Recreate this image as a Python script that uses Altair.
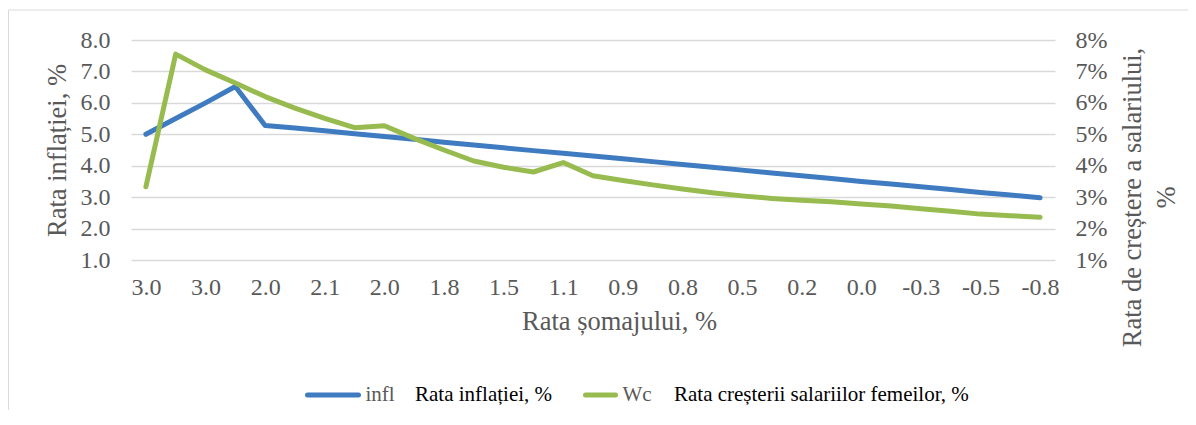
import altair as alt
import pandas as pd

# ---- data ----
x_labels = ["3.0", "3.0", "2.0", "2.1", "2.0", "1.8", "1.5", "1.1",
            "0.9", "0.8", "0.5", "0.2", "0.0", "-0.3", "-0.5", "-0.8"]
inflation = [5.0, 5.5, 6.0, 6.52, 5.28, 5.20, 5.11, 5.02, 4.93, 4.84,
             4.75, 4.66, 4.57, 4.48, 4.40, 4.31, 4.22, 4.13, 4.04, 3.95,
             3.86, 3.77, 3.68, 3.59, 3.50, 3.42, 3.33, 3.24, 3.15, 3.07, 2.98]
wage_growth = [3.33, 7.55, 7.05, 6.63, 6.20, 5.83, 5.51, 5.21, 5.27, 4.87,
               4.50, 4.15, 3.95, 3.80, 4.10, 3.68, 3.53, 3.39, 3.26, 3.14,
               3.04, 2.96, 2.90, 2.85, 2.78, 2.72, 2.63, 2.55, 2.46, 2.41, 2.36]
left_ticks = [1, 2, 3, 4, 5, 6, 7, 8]
right_ticks = [1, 2, 3, 4, 5, 6, 7, 8]

series_names = ["infl", "Wc"]
series_overlay = ["Rata inflației, %", "Rata creșterii salariilor femeilor, %"]

BLUE = "#3F7BC0"
GREEN = "#98BB4F"
GRAY = "#595959"
FONT = "Liberation Serif"

W, H = 924, 220

df = pd.DataFrame({
    "idx": list(range(len(inflation))),
    "infl": inflation,
    "wc": wage_growth,
})

label_js = "[" + ",".join("'" + s + "'" for s in x_labels) + "][round(datum.value/2)]"

x_enc = alt.X(
    "idx:Q",
    scale=alt.Scale(domain=[-0.5, len(inflation) - 0.5], nice=False, zero=False),
    axis=alt.Axis(
        values=list(range(0, len(inflation), 2)),
        labelExpr=label_js,
        grid=False,
        labelPadding=15,
        title="Rata șomajului, %",
        titleX=488,
        titleY=61,
        titleBaseline="middle",
        titleAlign="center",
    ),
)

blue = alt.Chart(df).mark_line(
    color=BLUE, strokeWidth=5, strokeCap="round", strokeJoin="round"
).encode(
    x=x_enc,
    y=alt.Y(
        "infl:Q",
        scale=alt.Scale(domain=[1, 8], nice=False, zero=False),
        axis=alt.Axis(
            orient="left",
            values=left_ticks,
            format=".1f",
            grid=True,
            gridColor="#D9D9D9",
            gridWidth=1.5,
            labelPadding=21,
            title="Rata inflației, %",
            titleAngle=270,
            titleX=-74,
            titleY=110,
            titleBaseline="middle",
            titleAlign="center",
        ),
    ),
)

green = alt.Chart(df).mark_line(
    color=GREEN, strokeWidth=5, strokeCap="round", strokeJoin="round"
).encode(
    x=alt.X("idx:Q"),
    y=alt.Y(
        "wc:Q",
        scale=alt.Scale(domain=[1, 8], nice=False, zero=False),
        axis=alt.Axis(
            orient="right",
            values=right_ticks,
            labelExpr="datum.value + '%'",
            grid=False,
            labelPadding=20,
            labelAlign="left",
            title=["Rata de creștere a salariului,", "%"],
            titleAngle=270,
            titleX=77,
            titleY=157,
            titleBaseline="middle",
            titleAlign="center",
            titleLineHeight=34,
        ),
    ),
)

one = pd.DataFrame({"a": [0]})

# chart-area border (top and left edges visible in the reference)
border_top = alt.Chart(one).mark_rule(color="#D9D9D9", strokeWidth=1).encode(
    x=alt.value(-122.5), x2=alt.value(1070), y=alt.value(-30)
)
border_left = alt.Chart(one).mark_rule(color="#D9D9D9", strokeWidth=1).encode(
    x=alt.value(-122.5), y=alt.value(-30), y2=alt.value(400)
)

# legend
leg_y = 355
leg_blue = alt.Chart(one).mark_rule(color=BLUE, strokeWidth=5, strokeCap="round").encode(
    x=alt.value(176.5), x2=alt.value(227.5), y=alt.value(leg_y)
)
leg_green = alt.Chart(one).mark_rule(color=GREEN, strokeWidth=5, strokeCap="round").encode(
    x=alt.value(454.5), x2=alt.value(484.5), y=alt.value(leg_y)
)
txt_kw = dict(font=FONT, fontSize=21, align="left", baseline="middle")
leg_t1 = alt.Chart(one).mark_text(text=series_names[0], color=GRAY, **txt_kw).encode(
    x=alt.value(234.5), y=alt.value(leg_y)
)
leg_t2 = alt.Chart(one).mark_text(text=series_overlay[0], color="#000000", **txt_kw).encode(
    x=alt.value(284), y=alt.value(leg_y)
)
leg_t3 = alt.Chart(one).mark_text(text=series_names[1], color=GRAY, **txt_kw).encode(
    x=alt.value(491.5), y=alt.value(leg_y)
)
leg_t4 = alt.Chart(one).mark_text(text=series_overlay[1], color="#000000", **txt_kw).encode(
    x=alt.value(543), y=alt.value(leg_y)
)

chart = alt.layer(
    border_top, border_left, blue, green,
    leg_blue, leg_t1, leg_t2, leg_green, leg_t3, leg_t4,
).resolve_scale(
    y="independent"
).properties(
    width=W,
    height=H,
    autosize=alt.AutoSizeParams(type="none"),
    padding={"left": 123, "top": 32, "right": 133, "bottom": 150},
    background="#FFFFFF",
).configure(
    font=FONT
).configure_view(
    stroke=None
).configure_axis(
    labelFont=FONT,
    titleFont=FONT,
    labelColor=GRAY,
    titleColor=GRAY,
    labelFontSize=24,
    titleFontSize=26.5,
    titleFontWeight="normal",
    domain=False,
    ticks=False,
)

chart.save("out.html", embed_options={"renderer": "svg", "actions": False})
